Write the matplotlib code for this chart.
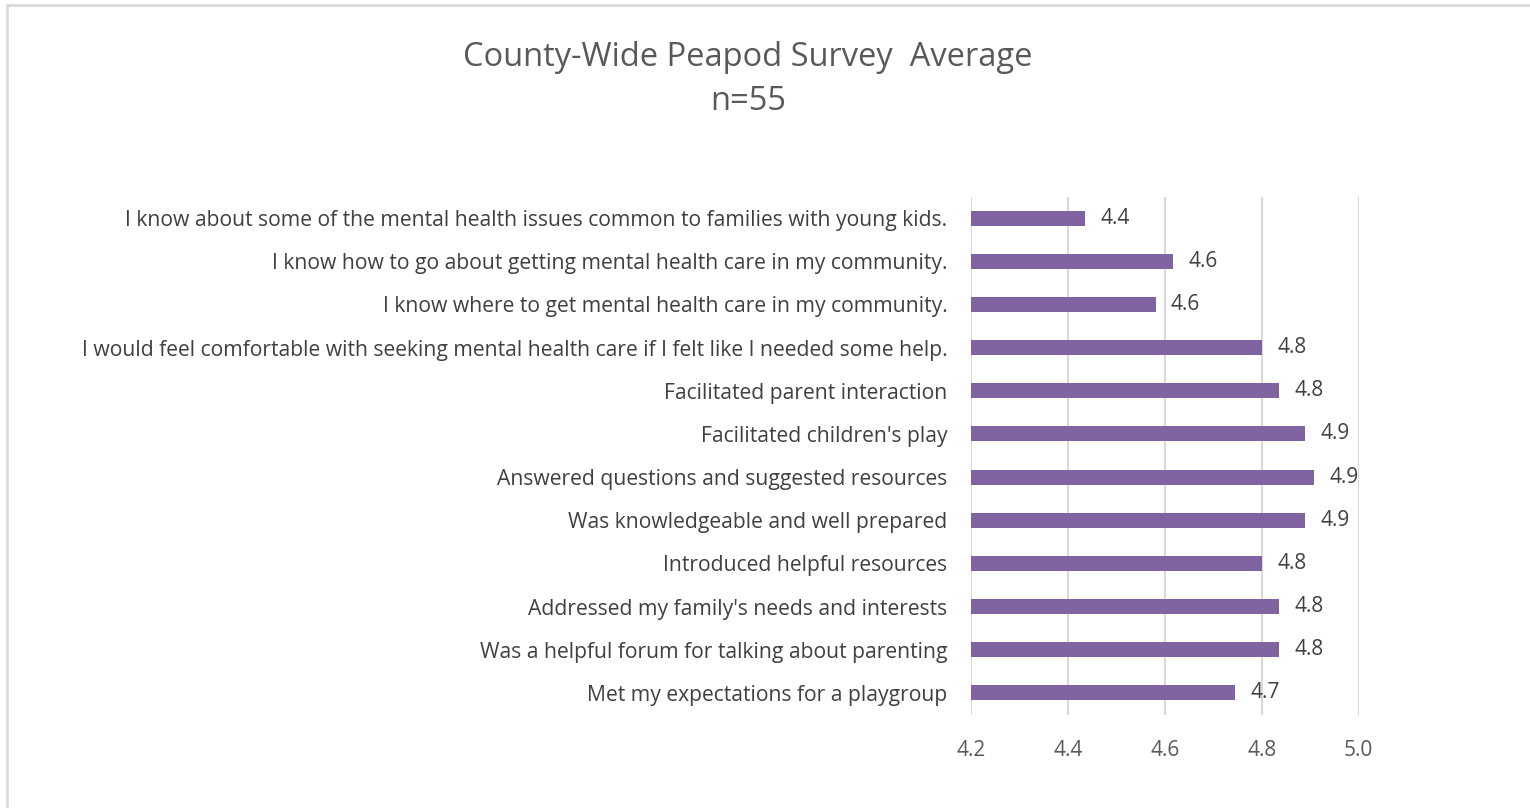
import numpy as np
import matplotlib
matplotlib.use("Agg")
import matplotlib.pyplot as plt
from matplotlib.patches import Rectangle

## survey items (top to bottom as shown)
items = [
    "I know about some of the mental health issues common to families with young kids.",
    "I know how to go about getting mental health care in my community.",
    "I know where to get mental health care in my community.",
    "I would feel comfortable with seeking mental health care if I felt like I needed some help.",
    "Facilitated parent interaction",
    "Facilitated children's play",
    "Answered questions and suggested resources",
    "Was knowledgeable and well prepared",
    "Introduced helpful resources",
    "Addressed my family's needs and interests",
    "Was a helpful forum for talking about parenting",
    "Met my expectations for a playgroup",
]
averages = [4.436, 4.617, 4.581, 4.80, 4.836, 4.89, 4.908, 4.89, 4.80, 4.836, 4.836, 4.745]
xticks = [4.2, 4.4, 4.6, 4.8, 5.0]

plt.rcParams['font.family'] = ['Open Sans', 'DejaVu Sans']

fig = plt.figure(figsize=(15.3, 8.08), dpi=100)
# chart border (right and bottom edges fall outside the picture)
fig.patches.append(Rectangle((7 / 1530, -0.05), 1.1, 1 - 5 / 808 + 0.05,
                             transform=fig.transFigure, fill=False,
                             edgecolor="#d9d9d9", linewidth=2))

ax = fig.add_axes([971 / 1530, 1 - 714.5 / 808, 387.7 / 1530, 518 / 808])

y = np.arange(len(items))
bars = ax.barh(y, [v - 4.2 for v in averages], left=4.2, height=0.35,
               color="#8064A2", zorder=3)
ax.bar_label(bars, labels=["%.1f" % v for v in averages], padding=11,
             fontsize=15, color="#404040")

ax.set_xlim(4.2, 5.0)
ax.set_ylim(len(items) - 0.5, -0.5)
ax.set_xticks(xticks)
ax.set_xticklabels(["%.1f" % t for t in xticks])
ax.set_yticks(y)
ax.set_yticklabels(items)
ax.tick_params(axis="x", length=0, pad=18, labelsize=15, labelcolor="#595959")
ax.tick_params(axis="y", length=0, pad=17, labelsize=15.2, labelcolor="#404040")
ax.grid(axis="x", color="#d9d9d9", linewidth=1.5, zorder=0)
for s in ax.spines.values():
    s.set_visible(False)

fig.text(748 / 1530, 1 - 57 / 808, "County-Wide Peapod Survey  Average",
         ha="center", va="center", fontsize=23.5, color="#595959")
fig.text(748 / 1530, 1 - 102 / 808, "n=55",
         ha="center", va="center", fontsize=23.5, color="#595959")

fig.savefig("out.png", dpi=100)
